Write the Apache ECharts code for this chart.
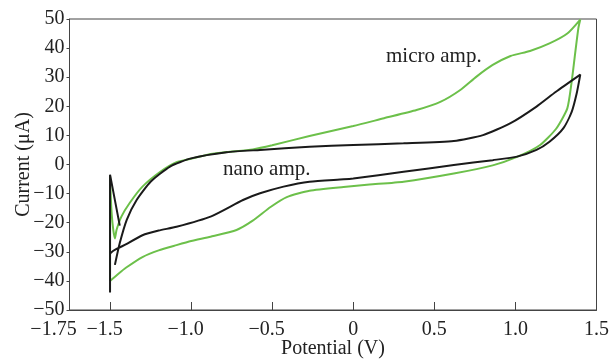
<!DOCTYPE html>
<html>
<head>
<meta charset="utf-8">
<script src="https://cdn.jsdelivr.net/npm/echarts@6/dist/echarts.min.js"></script>
<style>
  html, body { margin: 0; padding: 0; background: #fff; }
  #chart { width: 611px; height: 364px; }
</style>
</head>
<body>
<div id="chart"></div>
<script>
// cyclic voltammograms, [potential V, current uA], in sweep order
const microAmp = [
  [-1.5, -40], [-1.45, -37.6], [-1.4, -35.4], [-1.3, -31.8], [-1.2, -29.5], [-1.09, -27.7],
  [-1.0, -26.3], [-0.88, -24.8], [-0.72, -22.5], [-0.62, -19.3], [-0.51, -14.6], [-0.41, -11.2],
  [-0.27, -9.0], [-0.06, -7.7], [0.1, -6.9], [0.31, -5.9], [0.62, -3.1], [0.86, -0.3],
  [1.01, 2.6], [1.15, 6.6], [1.25, 12.2], [1.32, 19.3], [1.347, 28.5], [1.367, 37.6],
  [1.388, 46.8], [1.4, 49.8],
  [1.32, 45.0], [1.21, 41.6], [1.09, 39.0], [0.97, 37.3], [0.86, 34.2], [0.76, 30.2],
  [0.66, 25.6], [0.54, 21.6], [0.39, 18.7], [0.19, 15.9], [0.0, 13.2], [-0.27, 9.8],
  [-0.5, 6.6], [-0.62, 5.2], [-0.78, 4.3], [-0.88, 3.6], [-1.0, 2.0], [-1.09, 0.8],
  [-1.19, -2.5], [-1.3, -7.6], [-1.38, -13.3], [-1.43, -17.9], [-1.46, -22.5], [-1.47, -25.4],
  [-1.48, -22.5], [-1.49, -16.8], [-1.497, -9], [-1.5, -4], [-1.5, -40]
];

const nanoAmp = [
  [-1.44, -21], [-1.5, -3.5], [-1.5, -44], [-1.5, -30.8],
  [-1.4, -27.4], [-1.3, -24.3], [-1.2, -22.7], [-1.09, -21.4], [-0.88, -17.9], [-0.68, -12.2],
  [-0.575, -9.9], [-0.43, -7.6], [-0.27, -5.9], [-0.06, -5.1], [0.0, -4.8], [0.31, -2.5],
  [0.62, -0.2], [0.86, 1.5], [1.01, 2.7], [1.13, 5.0], [1.21, 7.8], [1.295, 12.4],
  [1.347, 18.1], [1.378, 24.5], [1.4, 30.9],
  [1.25, 25.0], [1.13, 19.9], [0.97, 14.2], [0.8, 10.1], [0.62, 8.1], [0.31, 7.3],
  [0.0, 6.7], [-0.27, 6.1], [-0.575, 5.0], [-0.78, 4.2], [-1.0, 2.1], [-1.13, -0.7],
  [-1.25, -5.9], [-1.336, -12.2], [-1.397, -19], [-1.44, -27], [-1.47, -34.5]
];

const xTickLabels = [-1.5, -1.0, -0.5, 0, 0.5, 1.0, 1.5];
const xEdgeLabels = [-1.75];
const xTickMarks = [-1.5, -1.0, -0.5, 0, 0.5, 1.0];

const serif = '"Liberation Serif", "Times New Roman", serif';
const axisColor = '#444';
const textColor = '#222';
const fs = 20;

// negative x labels: number stays roughly centred on the tick, minus hangs to the left
function fmtX(v) {
  if (v === 0) return '0';
  const s = Math.abs(v) === 1.75 ? '1.75' : Math.abs(v).toFixed(1);
  if (v >= 0) return s;
  return '\u2212' + s + (Math.abs(v) === 1.75 ? '{w|\u00a0}' : '{s|\u00a0}');
}

const labelBase = {
  formatter: fmtX, margin: 10, showMinLabel: true, showMaxLabel: true,
  fontFamily: serif, fontSize: fs, color: textColor,
  rich: {
    s: { width: 11, fontFamily: serif, fontSize: fs },
    w: { width: 32, fontFamily: serif, fontSize: fs }
  }
};

const chart = echarts.init(document.getElementById('chart'));
chart.setOption({
  animation: false,
  grid: {
    left: 69.5, right: 14.5, top: 19, bottom: 54,
    outerBoundsMode: 'none', containLabel: false,
    show: true, borderColor: axisColor, borderWidth: 1, backgroundColor: 'transparent'
  },
  xAxis: [
    {
      type: 'value', min: -1.75, max: 1.5, interval: 0.25, position: 'bottom',
      name: 'Potential (V)', nameLocation: 'middle', nameGap: 29, nameMoveOverlap: false,
      nameTextStyle: { fontFamily: serif, fontSize: fs, color: textColor },
      axisLine: { onZero: false, lineStyle: { color: axisColor, width: 1 } },
      axisTick: { show: true, inside: true, length: 8, customValues: xTickMarks,
        lineStyle: { color: axisColor } },
      axisLabel: Object.assign({ customValues: xTickLabels }, labelBase),
      splitLine: { show: false }
    },
    {
      type: 'value', min: -1.75, max: 1.5, interval: 0.25, position: 'bottom',
      axisLine: { show: false, onZero: false }, axisTick: { show: false },
      axisLabel: Object.assign({ customValues: xEdgeLabels }, labelBase),
      splitLine: { show: false }
    }
  ],
  yAxis: {
    type: 'value', min: -50, max: 50, interval: 10,
    name: 'Current (\u03bcA)', nameLocation: 'middle', nameGap: 36, nameRotate: 90,
    nameMoveOverlap: false,
    nameTextStyle: { fontFamily: serif, fontSize: fs, color: textColor },
    axisLine: { show: true, onZero: false, lineStyle: { color: axisColor, width: 1 } },
    axisTick: { show: true, inside: false, length: 3, lineStyle: { color: axisColor } },
    axisLabel: { margin: 5, fontFamily: serif, fontSize: fs, color: textColor,
      formatter: v => (v < 0 ? '\u2212' + Math.abs(v) : String(v)) },
    splitLine: { show: false }
  },
  graphic: [
    { type: 'text', left: 386, top: 46,
      style: { text: 'micro amp.', font: '21px ' + serif, fill: textColor } },
    { type: 'text', left: 223, top: 159,
      style: { text: 'nano amp.', font: '21px ' + serif, fill: textColor } }
  ],
  series: [
    {
      name: 'micro amp.', type: 'line', data: microAmp, showSymbol: false, smooth: 0.2,
      lineStyle: { color: '#6cc04a', width: 2 }, z: 2
    },
    {
      name: 'nano amp.', type: 'line', data: nanoAmp, showSymbol: false, smooth: 0.2,
      lineStyle: { color: '#1a1a1a', width: 2 }, z: 3
    }
  ]
});
</script>
</body>
</html>
